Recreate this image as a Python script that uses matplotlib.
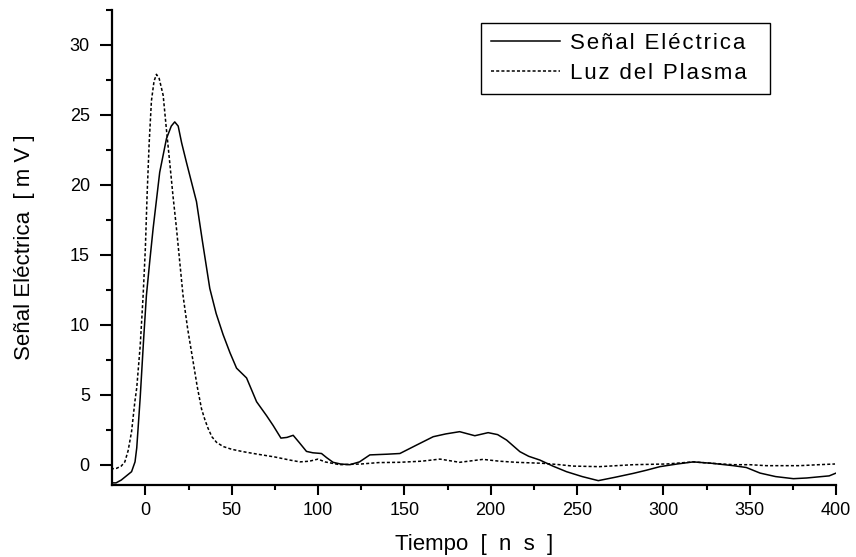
import matplotlib.pyplot as plt
from matplotlib.ticker import MultipleLocator

plt.rcParams['font.family'] = ['Liberation Sans', 'DejaVu Sans']

# Señal Eléctrica (solid line)
t_senal = [-20, -17, -14, -11, -8, -6, -5, -3, -1, 0.6, 2.5, 4.5, 8.3, 12.2, 15, 17, 19,
           21, 23.8, 29.6, 33, 37.3, 41, 45, 49, 52.8, 58.6, 64.4, 70.2, 74, 78.5, 82,
           85.6, 89, 93.3, 97, 102, 105, 108.7, 113, 118.4, 124, 130, 140, 147.4, 157,
           166.7, 174, 182, 190.8, 198.5, 204, 209.2, 216.9, 222, 228.5, 236, 243.9,
           253, 262.3, 272, 282.6, 290, 298, 308, 317.3, 328, 340.5, 348, 356, 365,
           375.3, 383, 390.7, 396, 400]
v_senal = [-1.3, -1.3, -1.1, -0.8, -0.5, 0.2, 1.2, 4.8, 9, 12.1, 14.5, 16.9, 20.9, 23.3,
           24.2, 24.5, 24.2, 23, 21.6, 18.8, 16, 12.6, 10.8, 9.3, 8, 6.9, 6.2, 4.5, 3.5,
           2.8, 1.9, 1.95, 2.1, 1.6, 0.95, 0.85, 0.8, 0.5, 0.17, 0.05, 0.0, 0.2, 0.7,
           0.75, 0.8, 1.4, 2.0, 2.2, 2.36, 2.07, 2.29, 2.15, 1.76, 0.93, 0.6, 0.33,
           -0.1, -0.5, -0.85, -1.14, -0.9, -0.62, -0.4, -0.14, 0.05, 0.2, 0.1, -0.07,
           -0.2, -0.6, -0.85, -1.0, -0.95, -0.86, -0.8, -0.6]

# Luz del Plasma (dashed line)
t_luz = [-20, -16.7, -14, -11.9, -10, -8, -6.1, -5, -3, -1.3, 0, 1, 2.2, 3.5, 5, 6.4, 8,
         10.3, 12, 14.1, 16, 18, 21.8, 24.5, 27.6, 30, 32.5, 34.5, 36.3, 38.5, 41.2,
         45, 50, 56.6, 65, 75, 83.7, 89.5, 95, 100, 104, 112.6, 125, 135, 147, 160,
         170.6, 182, 195.5, 205, 214.8, 230, 240, 247.6, 263, 282.6, 301.9, 317.3,
         328, 340.5, 350, 359.6, 378.9, 390, 399.4]
v_luz = [-0.3, -0.26, -0.1, 0.2, 1.0, 2.36, 4.5, 5.5, 8.5, 12.1, 15.5, 19.3, 23, 26,
         27.4, 27.9, 27.6, 26.4, 24.2, 21.6, 19.2, 16.9, 12.1, 9.7, 7.4, 5.6, 4.0, 3.2,
         2.6, 2.0, 1.6, 1.3, 1.1, 0.93, 0.75, 0.55, 0.33, 0.2, 0.25, 0.4, 0.2, 0.0,
         0.05, 0.15, 0.17, 0.25, 0.4, 0.17, 0.38, 0.25, 0.17, 0.1, 0.0, -0.1, -0.14,
         0.0, 0.05, 0.2, 0.1, 0.0, 0.0, -0.07, -0.07, 0.0, 0.05]

x_ticks = [0, 50, 100, 150, 200, 250, 300, 350, 400]
y_ticks = [0, 5, 10, 15, 20, 25, 30]


def spaced(s):
    # Origin-style letter tracking (hair spaces) plus a little right padding
    return '\u200a'.join(s) + '\u2009\u2009\u2009'


fig = plt.figure(figsize=(8.56, 5.57), dpi=100)
ax = fig.add_axes([0.1303, 0.1293, 0.8464, 0.8528])

ax.plot(t_senal, v_senal, color='black', linewidth=1.1, label=spaced('Señal Eléctrica'))
ax.plot(t_luz, v_luz, color='black', linewidth=1.1, dashes=(2.0, 1.4),
        label=spaced('Luz del Plasma'))

ax.set_xlim(-19.6, 400)
ax.set_ylim(-1.45, 32.5)
ax.set_xticks(x_ticks)
ax.set_yticks(y_ticks)
ax.xaxis.set_minor_locator(MultipleLocator(25))
ax.yaxis.set_minor_locator(MultipleLocator(2.5))

ax.spines['top'].set_visible(False)
ax.spines['right'].set_visible(False)
for s in ('left', 'bottom'):
    ax.spines[s].set_linewidth(1.6)

ax.tick_params(axis='x', which='major', direction='out', length=7, width=1.5, labelsize=13, pad=5)
ax.tick_params(axis='x', which='minor', direction='out', length=3.5, width=1.5)
ax.tick_params(axis='y', which='major', direction='out', length=8.6, width=1.5, labelsize=13, pad=7)
ax.tick_params(axis='y', which='minor', direction='out', length=4.3, width=1.5)

ax.set_xlabel('Tiempo  [  n  s  ]', fontsize=16, labelpad=11)
ax.set_ylabel('Señal Eléctrica  [ m V ]', fontsize=16, labelpad=25)

leg = ax.legend(loc='upper right', bbox_to_anchor=(0.909, 0.9726), fontsize=16,
                fancybox=False, edgecolor='black', framealpha=1, borderaxespad=0,
                handlelength=3.1, handletextpad=0.45, borderpad=0.45, labelspacing=0.4)
leg.get_frame().set_linewidth(1.0)

fig.savefig('out.png', dpi=100)
